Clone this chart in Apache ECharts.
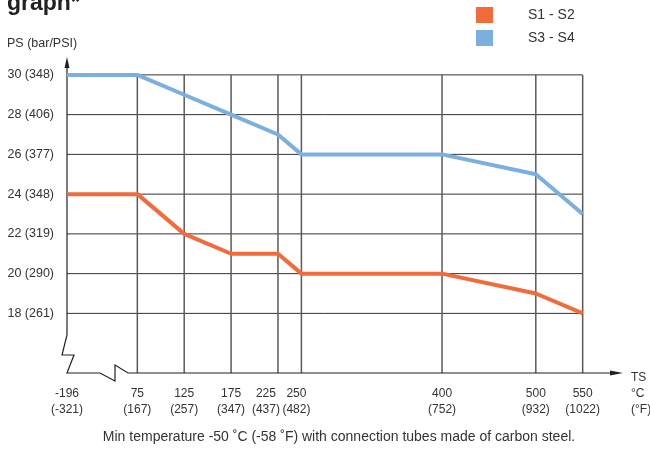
<!DOCTYPE html>
<html>
<head>
<meta charset="utf-8">
<script src="https://cdn.jsdelivr.net/npm/echarts@6/dist/echarts.min.js"></script>
<style>
html,body{margin:0;padding:0;background:#fff;}
#chart{width:650px;height:450px;}
</style>
</head>
<body>
<div id="chart"></div>
<script>
// ---- data ----
const tempC = [-196, 75, 125, 175, 225, 250, 400, 500, 550];
const tempF = [-321, 167, 257, 347, 437, 482, 752, 932, 1022];
const s1s2 = [24, 24, 22, 21, 21, 20, 20, 19, 18];
const s3s4 = [30, 30, 29, 28, 27, 26, 26, 25, 23];
const psBar = [30, 28, 26, 24, 22, 20, 18];
const psPsi = [348, 406, 377, 348, 319, 290, 261];
const seriesNames = ['S1 - S2', 'S3 - S4'];

// broken x axis: the first temperature sits at scale position 0
const BREAK_POS = 0;
const xPos = c => (c === tempC[0] ? BREAK_POS : c);
const xTicks = tempC.map(xPos);

const Y_MIN = 15, Y_MAX = 30.9, X_MAX = 593;
const FONT = '"Liberation Sans", Arial, Helvetica, sans-serif';
const TXT = '#333';

// label nudges (px to the left) for the crowded 225 / 250 ticks
const labelShift = {225: 24, 250: 10};

const chart = echarts.init(document.getElementById('chart'));

function frameItem(params, api) {
  const els = [];
  const gridColorH = '#333', gridColorV = '#5a5a5a';
  const xEnd = tempC[tempC.length - 1];
  psBar.forEach(v => {
    const a = api.coord([BREAK_POS, v]), b = api.coord([xEnd, v]);
    els.push({type: 'line', shape: {x1: a[0], y1: a[1], x2: b[0], y2: b[1]},
      style: {stroke: gridColorH, lineWidth: 1}});
  });
  const yTop = Math.max.apply(null, psBar);
  tempC.slice(1).forEach(c => {
    const a = api.coord([xPos(c), Y_MIN]), b = api.coord([xPos(c), yTop]);
    els.push({type: 'line', shape: {x1: a[0], y1: a[1], x2: b[0], y2: b[1]},
      style: {stroke: gridColorV, lineWidth: 1.5}});
  });
  const o = api.coord([BREAK_POS, Y_MIN]);
  const top = api.coord([BREAK_POS, Y_MAX]);
  const right = api.coord([X_MAX, Y_MIN]);
  const pts = [
    [o[0], top[1] + 8],
    [o[0], o[1] - 38],
    [o[0] - 5, o[1] - 18],
    [o[0] + 7, o[1] - 18],
    [o[0], o[1]],
    [o[0] + 33, o[1]],
    [o[0] + 48, o[1] + 8],
    [o[0] + 48, o[1] - 8],
    [o[0] + 61, o[1]],
    [right[0] - 10, o[1]]
  ];
  els.push({type: 'polyline', shape: {points: pts},
    style: {stroke: '#222', lineWidth: 1.2, fill: null}});
  els.push({type: 'polygon', shape: {points: [[o[0], top[1]], [o[0] - 2.5, top[1] + 11], [o[0] + 2.5, top[1] + 11]]},
    style: {fill: '#222'}});
  els.push({type: 'polygon', shape: {points: [[right[0], o[1]], [right[0] - 13, o[1] - 2.5], [right[0] - 13, o[1] + 2.5]]},
    style: {fill: '#222'}});
  return {type: 'group', children: els};
}

const rich = {};
Object.keys(labelShift).forEach(k => {
  rich['s' + k] = {fontFamily: FONT, fontSize: 12, color: TXT, lineHeight: 16,
    padding: [0, labelShift[k], 0, 0]};
});

const option = {
  backgroundColor: '#fff',
  animation: false,
  textStyle: {fontFamily: FONT},
  grid: {left: 67, right: 27, top: 57, bottom: 77, containLabel: false},
  legend: {
    data: seriesNames,
    orient: 'vertical',
    left: 471, top: 2,
    itemWidth: 17, itemHeight: 16, itemGap: 7,
    icon: 'rect',
    textStyle: {fontFamily: FONT, fontSize: 14, color: TXT, padding: [0, 0, 0, 30]}
  },
  xAxis: {
    type: 'value', min: 0, max: X_MAX,
    axisLine: {show: false}, axisTick: {show: false}, splitLine: {show: false},
    axisLabel: {
      customValues: xTicks,
      margin: 13,
      fontFamily: FONT, fontSize: 12, color: TXT, lineHeight: 16,
      rich: rich,
      formatter: v => {
        const i = xTicks.indexOf(v);
        if (i < 0) return '';
        const a = String(tempC[i]), b = '(' + tempF[i] + ')';
        if (labelShift[tempC[i]] !== undefined) {
          const k = 's' + tempC[i];
          return '{' + k + '|' + a + '}\n{' + k + '|' + b + '}';
        }
        return a + '\n' + b;
      }
    }
  },
  yAxis: {
    type: 'value', min: Y_MIN, max: Y_MAX,
    axisLine: {show: false}, axisTick: {show: false}, splitLine: {show: false},
    axisLabel: {
      customValues: psBar,
      margin: 13,
      fontFamily: FONT, fontSize: 12.5, color: TXT,
      formatter: v => {
        const i = psBar.indexOf(v);
        return i < 0 ? '' : psBar[i] + ' (' + psPsi[i] + ')';
      }
    }
  },
  graphic: [
    {type: 'text', left: 7, top: -8, z: 10,
      style: {text: 'graph*', font: 'bold 23px ' + FONT, fill: '#222'}},
    {type: 'text', left: 7, top: 37,
      style: {text: 'PS (bar/PSI)', font: '12.5px ' + FONT, fill: TXT}},
    {type: 'text', x: 631, y: 370,
      style: {text: 'TS\n°C\n(°F)', font: '12px ' + FONT, fill: TXT, lineHeight: 16}},
    {type: 'text', x: 339, y: 430,
      style: {text: 'Min temperature -50 ˚C (-58 ˚F) with connection tubes made of carbon steel.',
        font: '14px ' + FONT, fill: TXT, align: 'center'}}
  ],
  series: [
    {
      type: 'custom', name: 'frame', silent: true, z: 1,
      renderItem: frameItem, data: [[0, Y_MIN]]
    },
    {
      name: seriesNames[0], type: 'line', z: 5,
      showSymbol: false, symbol: 'none',
      lineStyle: {width: 4, color: '#F26B3B'}, itemStyle: {color: '#F26B3B'},
      data: tempC.map((c, i) => [xPos(c), s1s2[i]])
    },
    {
      name: seriesNames[1], type: 'line', z: 5,
      showSymbol: false, symbol: 'none',
      lineStyle: {width: 4, color: '#7BAFE0'}, itemStyle: {color: '#7BAFE0'},
      data: tempC.map((c, i) => [xPos(c), s3s4[i]])
    }
  ]
};
chart.setOption(option);
</script>
</body>
</html>
